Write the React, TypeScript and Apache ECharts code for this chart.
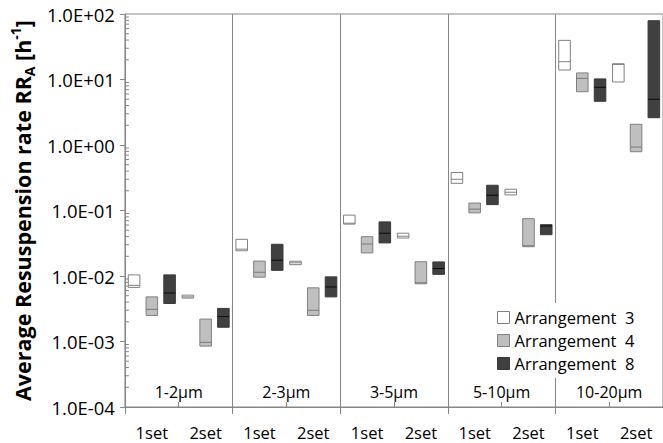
import React, { useEffect, useRef } from "react";
import * as echarts from "echarts";

const categories = ["1set", "2set", "1set", "2set", "1set", "2set", "1set", "2set", "1set", "2set"];
const groups = ["1-2µm", "2-3µm", "3-5µm", "5-10µm", "10-20µm"];
const arrangements = ["Arrangement  3", "Arrangement  4", "Arrangement  8"];

// per category: low, median, high
const a3Low = [0.0067, 0.0046, 0.0243, 0.0149, 0.062, 0.038, 0.26, 0.173, 13.96, 9.16];
const a3Med = [0.0072, 0.0048, 0.0257, 0.0159, 0.064, 0.0405, 0.3, 0.19, 18.7, 17.0];
const a3High = [0.0104, 0.0051, 0.0363, 0.0168, 0.085, 0.045, 0.38, 0.211, 39.6, 17.4];

const a4Low = [0.0025, 0.00085, 0.0096, 0.0025, 0.0225, 0.0076, 0.092, 0.028, 6.5, 0.79];
const a4Med = [0.0031, 0.00097, 0.0114, 0.003, 0.0308, 0.0079, 0.105, 0.029, 10.4, 0.93];
const a4High = [0.0048, 0.0022, 0.0169, 0.0066, 0.0398, 0.0165, 0.13, 0.075, 12.6, 2.07];

const a8Low = [0.0038, 0.00165, 0.0122, 0.0048, 0.032, 0.0106, 0.123, 0.0427, 4.65, 2.61];
const a8Med = [0.0055, 0.0024, 0.0174, 0.0068, 0.045, 0.013, 0.171, 0.058, 7.6, 4.99];
const a8High = [0.0104, 0.0032, 0.0305, 0.0097, 0.067, 0.0164, 0.243, 0.0607, 10.2, 79];

const yMin = 1e-4;
const yMax = 1e2;
const minorMultipliers = [2, 3, 4, 5, 6, 7, 8, 9];
const minorDecades = [1e-4, 1e-3, 1e-2, 1e-1, 1, 10];

const FONT = "Open Sans";
const GRAY = "#868686";

const styles = [
  { fill: "#ffffff", stroke: "#808080", med: "#808080" },
  { fill: "#bfbfbf", stroke: "#808080", med: "#7a7a7a" },
  { fill: "#404040", stroke: "#3a3a3a", med: "#0a0a0a" },
];

function fmtExp(v: number) {
  const e = Math.round(Math.log10(v));
  const s = e >= 0 ? "+" : "-";
  return `1.0E${s}${String(Math.abs(e)).padStart(2, "0")}`;
}

export default function App() {
  const ref = useRef<HTMLDivElement>(null);
  useEffect(() => {
    if (!ref.current) return;
    const chart = echarts.init(ref.current, undefined, { renderer: "svg" });
    const sets = [
      [a3Low, a3Med, a3High],
      [a4Low, a4Med, a4High],
      [a8Low, a8Med, a8High],
    ];
    const boxSeries = sets.map((s, k) => ({
      type: "custom",
      name: arrangements[k],
      xAxisIndex: 0,
      yAxisIndex: 0,
      encode: { x: 0, y: [1, 2, 3] },
      itemStyle: { color: styles[k].fill, borderColor: styles[k].stroke, borderWidth: 1 },
      data: categories.map((_, i) => [i, s[0][i], s[1][i], s[2][i]]),
      z: 5,
      renderItem: (params: any, api: any) => {
        const cat = api.value(0);
        const cs = params.coordSys;
        const bw = cs.width / categories.length;
        const lo = api.coord([cat, api.value(1)]);
        const md = api.coord([cat, api.value(2)]);
        const hi = api.coord([cat, api.value(3)]);
        const cx = lo[0] + (k - 1) * bw * 0.33;
        const w = bw * 0.215;
        return {
          type: "group",
          children: [
            {
              type: "rect",
              shape: { x: cx - w / 2, y: hi[1], width: w, height: lo[1] - hi[1] },
              style: { fill: styles[k].fill, stroke: styles[k].stroke, lineWidth: 1 },
            },
            {
              type: "line",
              shape: { x1: cx - w / 2, y1: md[1], x2: cx + w / 2, y2: md[1] },
              style: { stroke: styles[k].med, lineWidth: 1 },
            },
          ],
        };
      },
    }));
    const minorData: number[][] = [];
    minorDecades.forEach((d) => minorMultipliers.forEach((m) => minorData.push([0, m * d])));
    const minorSeries = {
      type: "custom",
      name: "minor",
      xAxisIndex: 0,
      yAxisIndex: 0,
      silent: true,
      data: minorData,
      z: 3,
      renderItem: (params: any, api: any) => {
        const cs = params.coordSys;
        const p = api.coord([0, api.value(1)]);
        return {
          type: "line",
          shape: { x1: cs.x, y1: p[1], x2: cs.x + 4, y2: p[1] },
          style: { stroke: GRAY, lineWidth: 1 },
        };
      },
    };
    chart.setOption({
      animation: false,
      backgroundColor: "#ffffff",
      grid: {
        left: 111,
        right: -4,
        top: 14,
        bottom: 36,
        show: true,
        borderColor: GRAY,
        borderWidth: 1,
        backgroundColor: "transparent",
      },
      legend: {
        data: arrangements.map((n, k) => ({
          name: n,
          itemStyle: { color: styles[k].fill, borderColor: styles[k].stroke, borderWidth: 1 },
        })),
        orient: "vertical",
        left: 487,
        top: 303,
        icon: "rect",
        itemWidth: 12,
        itemHeight: 12,
        itemGap: 6,
        padding: [6, 14, 6, 10],
        backgroundColor: "#ffffff",
        selectedMode: false,
        textStyle: { fontFamily: FONT, fontSize: 16.5, color: "#000", lineHeight: 16 },
        z: 10,
      },
      xAxis: [
        {
          type: "category",
          data: categories,
          position: "bottom",
          axisLine: { show: true, lineStyle: { color: GRAY } },
          axisTick: { show: true, inside: true, length: 5, interval: 0, lineStyle: { color: GRAY } },
          axisLabel: { interval: 0, margin: 17, fontFamily: FONT, fontSize: 16.5, color: "#000" },
          splitLine: { show: false },
        },
        {
          type: "category",
          data: groups,
          position: "bottom",
          offset: 0,
          axisLine: { show: false },
          axisTick: { show: true, inside: false, length: 7, interval: 0, lineStyle: { color: GRAY } },
          axisLabel: { inside: true, interval: 0, margin: 7, fontFamily: FONT, fontSize: 16, color: "#000" },
          splitLine: { show: true, interval: 0, lineStyle: { color: GRAY, width: 1 } },
        },
      ],
      yAxis: {
        type: "log",
        logBase: 10,
        min: yMin,
        max: yMax,
        name: "Average Resuspension rate RR{sub|A} [h{sup|-1}]",
        nameLocation: "middle",
        nameGap: 86,
        nameRotate: 90,
        nameTextStyle: {
          fontFamily: FONT,
          fontSize: 21.5,
          fontWeight: "bold",
          color: "#000",
          rich: {
            sub: { fontFamily: FONT, fontSize: 14, fontWeight: "bold", color: "#000", verticalAlign: "bottom", lineHeight: 28 },
            sup: { fontFamily: FONT, fontSize: 14, fontWeight: "bold", color: "#000", verticalAlign: "top", lineHeight: 28 },
          },
        },
        axisLine: { show: true, lineStyle: { color: GRAY } },
        axisTick: { show: true, length: 5, lineStyle: { color: GRAY } },
        axisLabel: { formatter: (v: number) => fmtExp(v), margin: 10, fontFamily: FONT, fontSize: 18.5, color: "#000" },
        splitLine: { show: false },
      },
      series: [minorSeries, ...boxSeries],
    });
    return () => chart.dispose();
  }, []);
  return <div ref={ref} style={{ width: 663, height: 443, position: "absolute", left: 0, top: 0 }} />;
}
